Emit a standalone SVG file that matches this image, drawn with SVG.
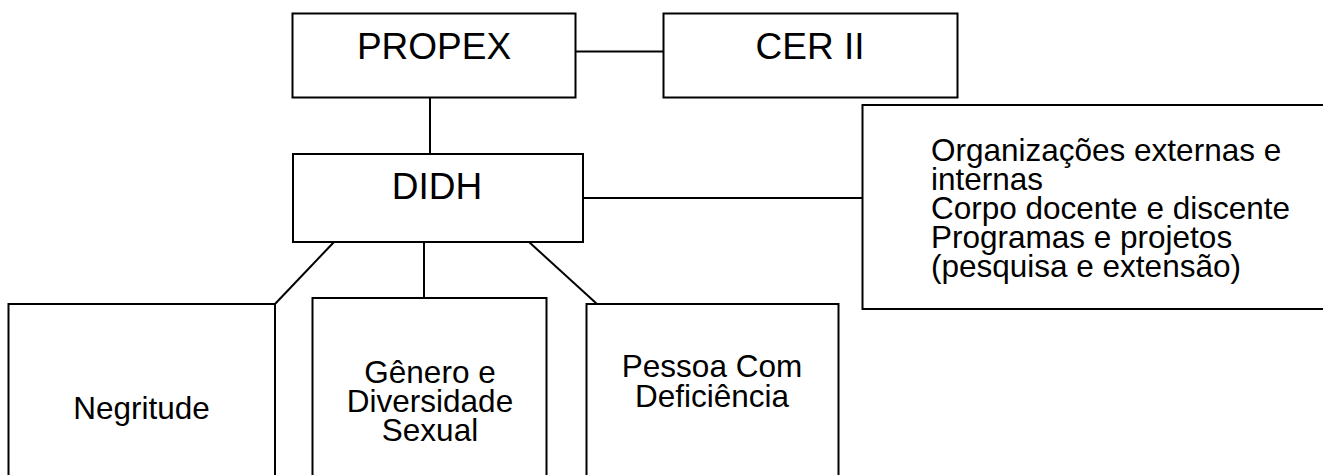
<svg xmlns="http://www.w3.org/2000/svg" width="1323" height="475" viewBox="0 0 1323 475">
<style>
.box{fill:#fff;stroke:#000;stroke-width:2}
.ln{stroke:#000;stroke-width:2;fill:none}
.t{font-family:"Liberation Sans",Arial,sans-serif;fill:#000}
.big{font-size:37px;text-anchor:middle}
.mid{font-size:31.5px;text-anchor:middle}
.side{font-size:31.5px}
</style>
<rect x="0" y="0" width="1323" height="475" fill="#fff"/>
<g id="connectors">
<line class="ln" x1="575" y1="51.5" x2="664" y2="51.5"/>
<line class="ln" x1="430" y1="98" x2="430" y2="154"/>
<line class="ln" x1="583" y1="198" x2="863" y2="198"/>
<line class="ln" x1="334" y1="242" x2="275" y2="304"/>
<line class="ln" x1="424" y1="242" x2="424" y2="298"/>
<line class="ln" x1="529" y1="242" x2="597" y2="304"/>
</g>
<g id="propex">
<rect class="box" x="292.5" y="13.5" width="283" height="84"/>
<text class="t big" x="434" y="59">PROPEX</text>
</g>
<g id="cer2">
<rect class="box" x="663.5" y="13.5" width="294" height="84"/>
<text class="t big" x="810" y="59">CER II</text>
</g>
<g id="didh">
<rect class="box" x="293" y="154" width="290" height="88"/>
<text class="t big" x="437" y="199">DIDH</text>
</g>
<g id="orgs">
<rect class="box" x="862.5" y="105" width="470" height="204"/>
<text class="t side" x="931" y="161">Organizações externas e</text>
<text class="t side" x="931" y="190">internas</text>
<text class="t side" x="931" y="219">Corpo docente e discente</text>
<text class="t side" x="931" y="248">Programas e projetos</text>
<text class="t side" x="931" y="277">(pesquisa e extensão)</text>
</g>
<g id="negritude">
<rect class="box" x="8.5" y="304" width="266.5" height="180"/>
<text class="t mid" x="141.5" y="419">Negritude</text>
</g>
<g id="genero">
<rect class="box" x="312.5" y="298" width="234" height="186"/>
<text class="t mid" x="430" y="383">Gênero e</text>
<text class="t mid" x="430" y="412">Diversidade</text>
<text class="t mid" x="430" y="441">Sexual</text>
</g>
<g id="pessoa">
<rect class="box" x="586.5" y="304" width="252" height="180"/>
<text class="t mid" x="712" y="377">Pessoa Com</text>
<text class="t mid" x="712" y="407">Deficiência</text>
</g>
</svg>
